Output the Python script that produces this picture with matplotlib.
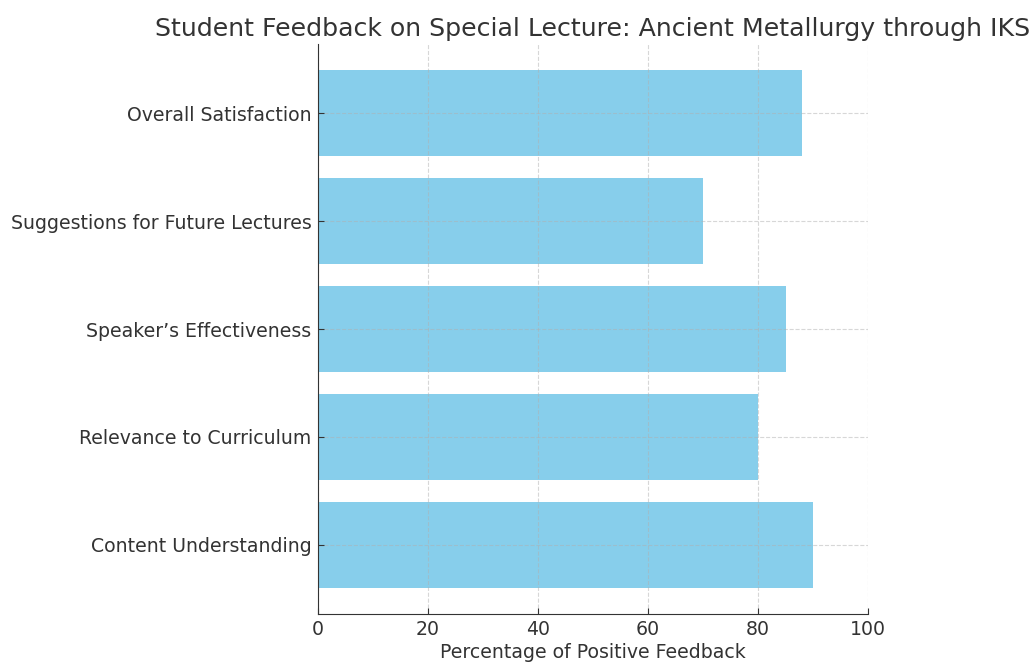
import matplotlib.pyplot as plt

categories = ['Content Understanding', 'Relevance to Curriculum',
              "Speaker\u2019s Effectiveness", 'Suggestions for Future Lectures',
              'Overall Satisfaction']
values = [90, 80, 85, 70, 88]

plt.rcParams['font.family'] = ['DejaVu Sans']
plt.rcParams['text.color'] = '#333333'
plt.rcParams['axes.labelcolor'] = '#333333'
plt.rcParams['xtick.color'] = '#333333'
plt.rcParams['ytick.color'] = '#333333'

fig = plt.figure(figsize=(10.35, 6.62), dpi=100)
ax = fig.add_axes([0.307, 0.0725, 0.532, 0.861])

ax.barh(categories, values, color='skyblue', height=0.8)
ax.set_xlim(0, 100)
ax.set_xlabel('Percentage of Positive Feedback', fontsize=13.6, labelpad=3)
ax.set_title('Student Feedback on Special Lecture: Ancient Metallurgy through IKS',
             fontsize=18.2)
ax.tick_params(labelsize=13.6, direction='in', length=4, pad=4.5)

# faint dashed grid drawn over the bars
ax.set_axisbelow(False)
ax.grid(True, linestyle='--', color='#b0b0b0', alpha=0.5, linewidth=0.8)

ax.spines['top'].set_visible(False)
ax.spines['right'].set_visible(False)
for side in ('left', 'bottom'):
    ax.spines[side].set_color('#333333')
    ax.spines[side].set_zorder(5)

fig.savefig('out.png', dpi=100)
